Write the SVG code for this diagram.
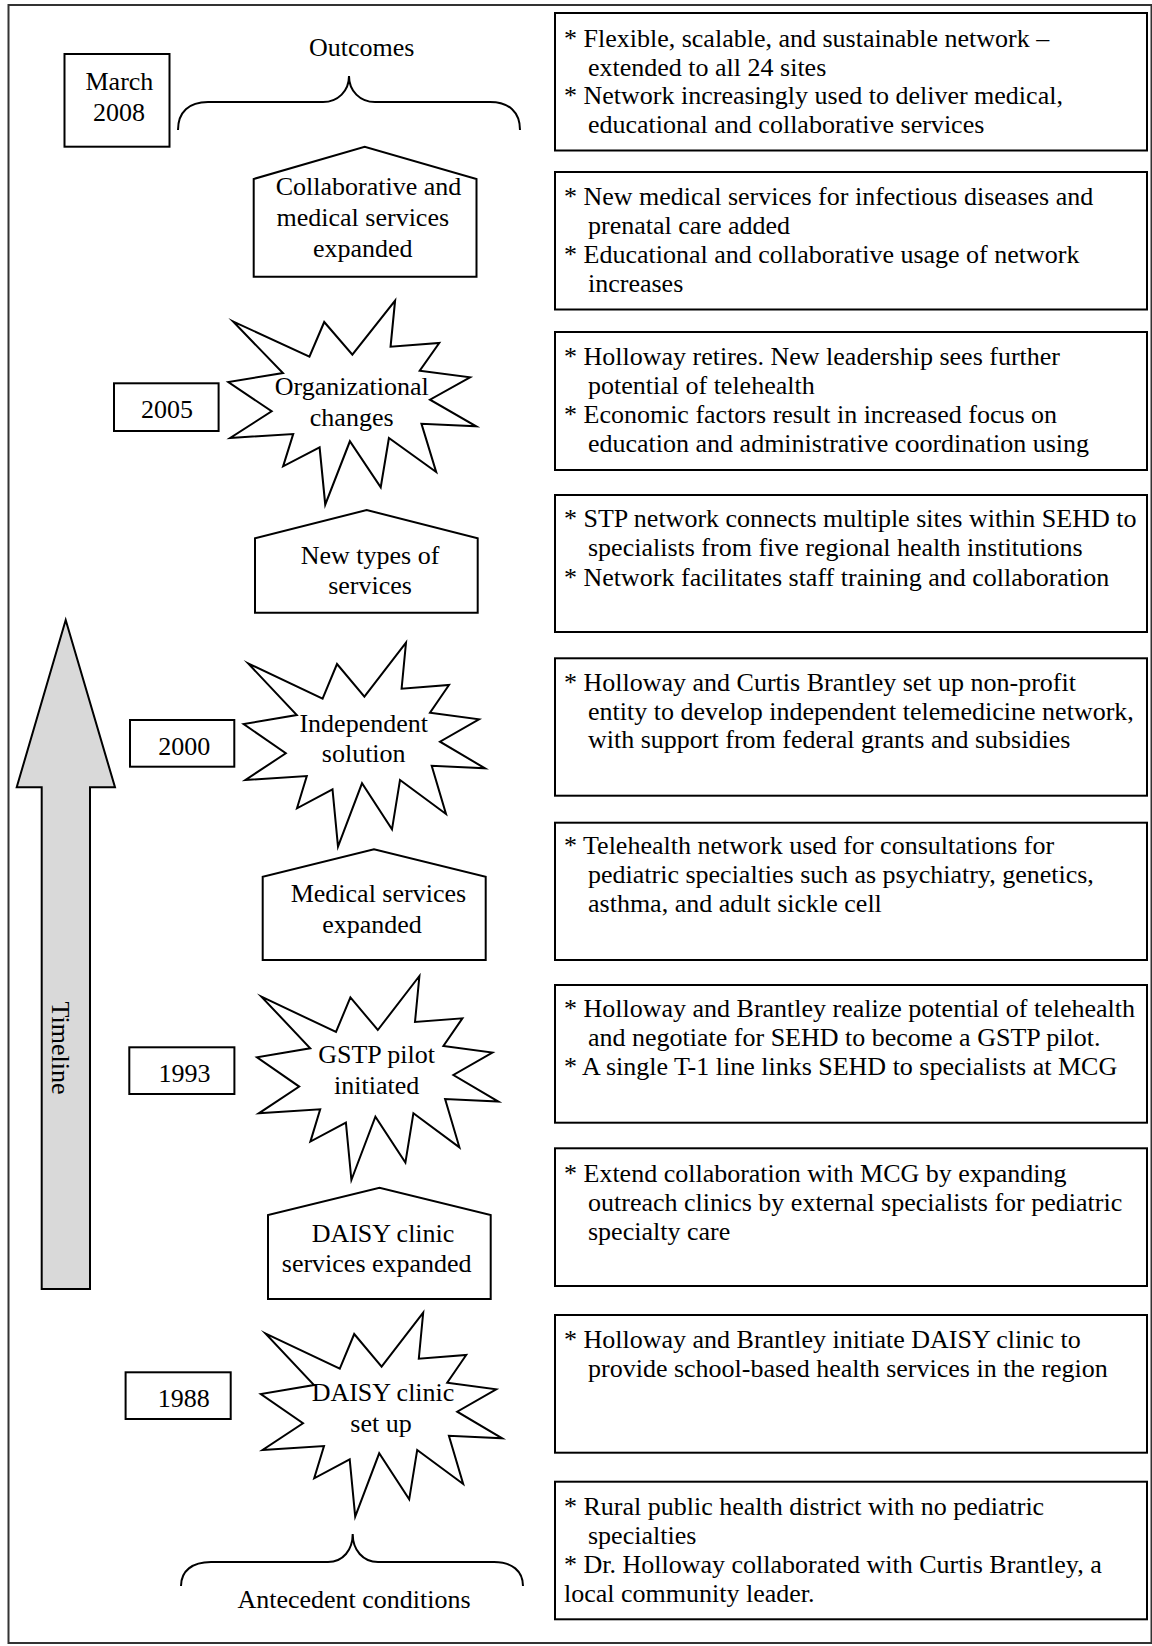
<svg xmlns="http://www.w3.org/2000/svg" xmlns:xlink="http://www.w3.org/1999/xlink" width="1152" height="1646" viewBox="0 0 1152 1646">
<style>
.frame{fill:none;stroke:#333;stroke-width:2}
.box{fill:#fff;stroke:#000;stroke-width:2}
.shape{fill:#fff;stroke:#000;stroke-width:2;stroke-linejoin:miter;stroke-miterlimit:8}
.brace{fill:none;stroke:#000;stroke-width:2}
.arrow{fill:#d9d9d9;stroke:#000;stroke-width:2}
text{font-family:"Liberation Serif","Times New Roman",serif;font-size:26px;fill:#000}
.c{text-anchor:middle}
</style>
<defs>
<path id="star" class="shape" d="M4.4,20.6 L79,56 L93.4,21.3 L120.8,54 L162.4,0 L158,46 L205.4,42.3 L186.4,70 L235.4,76.6 L196.4,99 L241.4,125.6 L188.1,123 L202.4,171.3 L156.4,137.3 L148.4,186.6 L118.4,140.6 L94.4,204 L88.9,146.6 L53.4,165.6 L63.2,133.3 L1.8,137.3 L42.2,110.6 L0,81.3 L53.2,72.3 Z"/>
</defs>
<rect class="frame" x="8.5" y="5" width="1143" height="1638"/>

<g id="connectors">
<path id="brace-outcomes" class="brace" d="M178,130 C178,112 189,102 208,102 L323,102 C338,102 349,91 349,76 C349,91 360,102 375,102 L490,102 C509,102 520,112 520,130"/>
<path id="brace-antecedent" class="brace" d="M181,1586 C181,1571 192,1562 211,1562 L328,1562 C343,1562 352.7,1550 352.7,1534 C352.7,1550 363,1562 378,1562 L494,1562 C512,1562 523,1571 523,1586"/>
<polygon id="timeline-arrow" class="arrow" points="65.7,620 115,787.3 90,787.3 90,1289 41.7,1289 41.7,787.3 16.7,787.3"/>
</g>

<g id="label-outcomes"><text class="c" x="361.6" y="56">Outcomes</text></g>
<g id="label-antecedent"><text class="c" x="354" y="1608">Antecedent conditions</text></g>
<g id="label-timeline"><text class="c" transform="translate(52,1048) rotate(90)">Timeline</text></g>

<g id="date-2008"><rect class="box" x="64.5" y="54" width="105" height="92.7"/><text class="c" x="119.4" y="90">March</text><text class="c" x="119" y="120.7">2008</text></g>
<g id="date-2005"><rect class="box" x="114" y="383.3" width="104.6" height="47.7"/><text class="c" x="167" y="418.3">2005</text></g>
<g id="date-2000"><rect class="box" x="130" y="720" width="104.3" height="46.7"/><text class="c" x="184.3" y="755">2000</text></g>
<g id="date-1993"><rect class="box" x="129.3" y="1047.3" width="105.1" height="46.7"/><text class="c" x="184.4" y="1081.7">1993</text></g>
<g id="date-1988"><rect class="box" x="125.6" y="1372.3" width="105.1" height="46.7"/><text class="c" x="183.7" y="1406.7">1988</text></g>

<g id="node-collab"><path class="shape" d="M253.7,276.7 L253.7,179 L364.7,146.7 L476.5,179 L476.5,276.7 Z"/><text class="c" x="368.5" y="195">Collaborative and</text><text class="c" x="362.8" y="226">medical services</text><text class="c" x="362.8" y="257.3">expanded</text></g>
<g id="node-org"><use xlink:href="#star" href="#star" transform="translate(228.3,300.7) scale(1.027,1)"/><text class="c" x="351.7" y="395">Organizational</text><text class="c" x="351.7" y="425.7">changes</text></g>
<g id="node-newtypes"><path class="shape" d="M255,612.7 L255,538.3 L366.7,510 L477.7,538.3 L477.7,612.7 Z"/><text class="c" x="370" y="564">New types of</text><text class="c" x="370" y="594">services</text></g>
<g id="node-independent"><use xlink:href="#star" href="#star" transform="translate(243.6,642.7)"/><text class="c" x="363.7" y="731.7">Independent</text><text class="c" x="363.7" y="761.7">solution</text></g>
<g id="node-medical"><path class="shape" d="M262.7,960 L262.7,876.7 L374,849.3 L485.7,876.7 L485.7,960 Z"/><text class="c" x="378.4" y="902.3">Medical services</text><text class="c" x="372" y="933.3">expanded</text></g>
<g id="node-gstp"><use xlink:href="#star" href="#star" transform="translate(257,976)"/><text class="c" x="376.6" y="1063.3">GSTP pilot</text><text class="c" x="376.6" y="1094">initiated</text></g>
<g id="node-daisy-exp"><path class="shape" d="M268,1299 L268,1215 L379.5,1187.7 L490.7,1215 L490.7,1299 Z"/><text class="c" x="383" y="1241.7">DAISY clinic</text><text class="c" x="376.7" y="1271.7">services expanded</text></g>
<g id="node-daisy-setup"><use xlink:href="#star" href="#star" transform="translate(260.8,1312.7)"/><text class="c" x="383" y="1400.7">DAISY clinic</text><text class="c" x="381" y="1431.7">set up</text></g>

<g id="desc-1"><rect class="box" x="555" y="13" width="592" height="137.5"/>
<text x="564" y="46.7">* Flexible, scalable, and sustainable network –</text>
<text x="588" y="75.5">extended to all 24 sites</text>
<text x="564" y="104">* Network increasingly used to deliver medical,</text>
<text x="588" y="132.5">educational and collaborative services</text></g>
<g id="desc-2"><rect class="box" x="555" y="172" width="592" height="137.5"/>
<text x="564" y="205">* New medical services for infectious diseases and</text>
<text x="588" y="234">prenatal care added</text>
<text x="564" y="263">* Educational and collaborative usage of network</text>
<text x="588" y="292">increases</text></g>
<g id="desc-3"><rect class="box" x="555" y="332" width="592" height="138"/>
<text x="564" y="365">* Holloway retires. New leadership sees further</text>
<text x="588" y="394">potential of telehealth</text>
<text x="564" y="423">* Economic factors result in increased focus on</text>
<text x="588" y="452">education and administrative coordination using</text></g>
<g id="desc-4"><rect class="box" x="555" y="495" width="592" height="137"/>
<text x="564" y="526.7">* STP network connects multiple sites within SEHD to</text>
<text x="588" y="556">specialists from five regional health institutions</text>
<text x="564" y="585.5">* Network facilitates staff training and collaboration</text></g>
<g id="desc-5"><rect class="box" x="555" y="658.3" width="592" height="137.4"/>
<text x="564" y="690.7">* Holloway and Curtis Brantley set up non-profit</text>
<text x="588" y="719.5">entity to develop independent telemedicine network,</text>
<text x="588" y="748.3">with support from federal grants and subsidies</text></g>
<g id="desc-6"><rect class="box" x="555" y="822.7" width="592" height="137.3"/>
<text x="564" y="854">* Telehealth network used for consultations for</text>
<text x="588" y="883">pediatric specialties such as psychiatry, genetics,</text>
<text x="588" y="912">asthma, and adult sickle cell</text></g>
<g id="desc-7"><rect class="box" x="555" y="985" width="592" height="137.7"/>
<text x="564" y="1016.7">* Holloway and Brantley realize potential of telehealth</text>
<text x="588" y="1046">and negotiate for SEHD to become a GSTP pilot.</text>
<text x="564" y="1075">* A single T-1 line links SEHD to specialists at MCG</text></g>
<g id="desc-8"><rect class="box" x="555" y="1148.3" width="592" height="137.7"/>
<text x="564" y="1181.7">* Extend collaboration with MCG by expanding</text>
<text x="588" y="1211">outreach clinics by external specialists for pediatric</text>
<text x="588" y="1240">specialty care</text></g>
<g id="desc-9"><rect class="box" x="555" y="1315" width="592" height="137.7"/>
<text x="564" y="1348.3">* Holloway and Brantley initiate DAISY clinic to</text>
<text x="588" y="1377">provide school-based health services in the region</text></g>
<g id="desc-10"><rect class="box" x="555" y="1481.7" width="592" height="137.6"/>
<text x="564" y="1515">* Rural public health district with no pediatric</text>
<text x="588" y="1544">specialties</text>
<text x="564" y="1573">* Dr. Holloway collaborated with Curtis Brantley, a</text>
<text x="564" y="1602">local community leader.</text></g>
</svg>
